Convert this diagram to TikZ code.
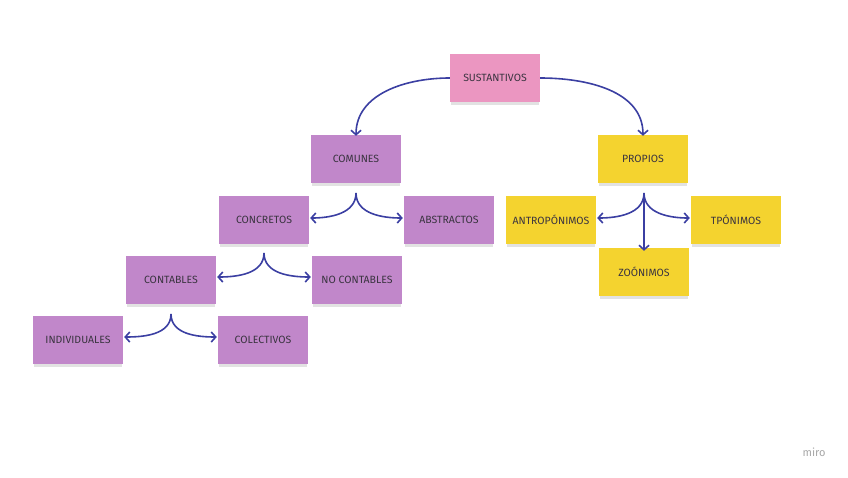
\documentclass[tikz,border=0pt]{standalone}
\usepackage{fontspec}
\setmainfont{Fira Sans}
\usepackage{tikz}
\usetikzlibrary{arrows.meta, positioning, shadows}
\definecolor{mpink}{HTML}{EB96C1}
\definecolor{mlila}{HTML}{C187CA}
\definecolor{mgold}{HTML}{F4D32F}
\definecolor{mline}{HTML}{3B3FA2}
\definecolor{mtext}{HTML}{3A3440}
\tikzset{
  nota/.style={minimum width=90pt, minimum height=48pt, inner sep=2pt,
               font=\fontsize{10.5}{12}\selectfont, text=mtext,
               drop shadow={opacity=0.16, fill=black!70, shadow xshift=0pt, shadow yshift=-3.5pt, shadow scale=0.97}},
  pinkbox/.style={nota, fill=mpink},
  lilabox/.style={nota, fill=mlila},
  ybox/.style={nota, fill=mgold},
  arr/.style={-{Straight Barb[length=4.5pt, width=10pt]}, line width=1.6pt, mline, shorten >=1pt},
}

\begin{document}
\begin{tikzpicture}[x=1pt, y=-1pt]
  \useasboundingbox (0,0) rectangle (848,477);

  %% Notas
  \node[pinkbox] (sus) at (495, 78) {SUSTANTIVOS};
  \node[lilabox] (com) at (356, 159) {COMUNES};
  \node[ybox] (pro) at (643, 159) {PROPIOS};
  \node[lilabox] (conc) at (264, 220) {CONCRETOS};
  \node[lilabox] (abst) at (449, 220) {ABSTRACTOS};
  \node[lilabox] (cont) at (171, 280) {CONTABLES};
  \node[lilabox] (nocont) at (357, 280) {NO CONTABLES};
  \node[lilabox] (indiv) at (78, 340) {INDIVIDUALES};
  \node[lilabox] (colec) at (263, 340) {COLECTIVOS};
  \node[ybox] (antro) at (551, 220) {ANTROPÓNIMOS};
  \node[ybox] (topo) at (736, 220) {TPÓNIMOS};
  \node[ybox] (zoo) at (644, 272) {ZOÓNIMOS};

  %% Puntos de division
  \coordinate (s1) at (356, 193);
  \coordinate (s2) at (264, 253);
  \coordinate (s3) at (171, 314);
  \coordinate (s4) at (644, 193);

  %% Flechas
  \draw[arr] (sus.west) to[out=180, in=90] ([yshift=-2pt]com.north);
  \draw[arr] (sus.east) to[out=0, in=90] ([yshift=-2pt]pro.north);

  \draw[arr] (s1) to[out=-90, in=0] ([yshift=2pt]conc.east);
  \draw[arr] (s1) to[out=-90, in=180] ([yshift=2pt]abst.west);

  \draw[arr] (s2) to[out=-90, in=0] ([yshift=3pt]cont.east);
  \draw[arr] (s2) to[out=-90, in=180] ([yshift=3pt]nocont.west);

  \draw[arr] (s3) to[out=-90, in=0] ([yshift=3pt]indiv.east);
  \draw[arr] (s3) to[out=-90, in=180] ([yshift=3pt]colec.west);

  \draw[arr] (s4) to[out=-90, in=0] ([yshift=2pt]antro.east);
  \draw[arr] (s4) to[out=-90, in=180] ([yshift=2pt]topo.west);
  \draw[arr] (s4) -- ([yshift=-4pt]zoo.north);

  %% Marca
  \node[text=black!35, font=\fontsize{11}{13}\selectfont] (marca) at (814, 452) {miro};
\end{tikzpicture}
\end{document}
